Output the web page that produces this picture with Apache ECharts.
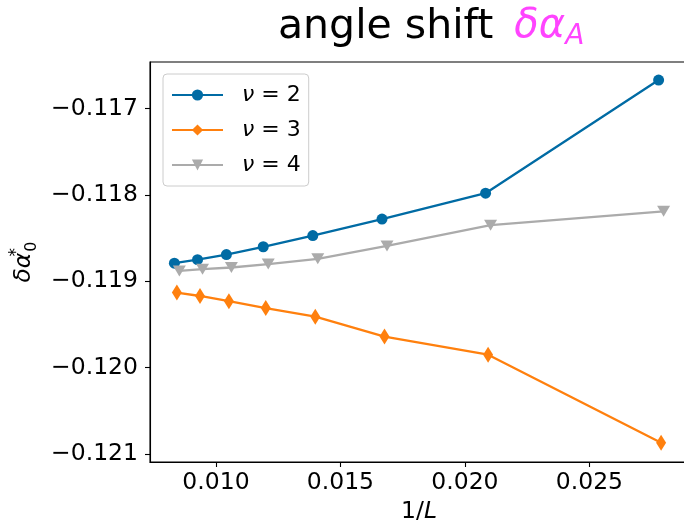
<!DOCTYPE html>
<html>
<head>
<meta charset="utf-8">
<script src="https://cdn.jsdelivr.net/npm/echarts@6/dist/echarts.min.js"></script>
<style>
  html, body { margin: 0; padding: 0; background: #fff; }
  #chart { width: 684px; height: 522px; }
</style>
</head>
<body>
<div id="chart"></div>
<script>
// 1/L positions for each series (small horizontal offsets keep markers apart)
const xNu2 = [0.00833, 0.00926, 0.01042, 0.01190, 0.01389, 0.01667, 0.02083, 0.02778];
const xNu3 = [0.00843, 0.00936, 0.01052, 0.01200, 0.01399, 0.01677, 0.02093, 0.02788];
const xNu4 = [0.00853, 0.00946, 0.01062, 0.01210, 0.01409, 0.01687, 0.02103, 0.02798];

// delta alpha_0^* values
const yNu2 = [-0.11879, -0.11875, -0.11869, -0.11860, -0.11847, -0.11828, -0.11798, -0.11667];
const yNu3 = [-0.11913, -0.11917, -0.11923, -0.11931, -0.11941, -0.11964, -0.11985, -0.12087];
const yNu4 = [-0.11888, -0.11886, -0.11884, -0.11880, -0.11874, -0.11859, -0.11835, -0.11819];

const seriesNames = ['ν = 2', 'ν = 3', 'ν = 4'];
const xTicks = [0.010, 0.015, 0.020, 0.025];
const yTicks = [-0.121, -0.120, -0.119, -0.118, -0.117];

const FONT = 'DejaVu Sans';
const TICK_FS = 23.5;
const pairs = (xs, ys) => xs.map((x, i) => [x, ys[i]]);

const chart = echarts.init(document.getElementById('chart'), null, { renderer: 'canvas' });

const axisCommon = {
  type: 'value',
  axisLine: { show: true, onZero: false, lineStyle: { color: '#000', width: 1.1 } },
  axisTick: { show: true, inside: false, length: 5, lineStyle: { color: '#000', width: 1.1 } },
  splitLine: { show: false },
  axisLabel: { color: '#000', fontFamily: FONT, fontSize: TICK_FS }
};

chart.setOption({
  animation: false,
  backgroundColor: '#fff',
  title: {
    text: '{n|angle shift }{m|δα}{s|A}',
    left: 278,
    top: 3,
    padding: 0,
    textStyle: {
      fontWeight: 'normal',
      rich: {
        n: { fontFamily: FONT, fontSize: 41, fontWeight: 'normal', color: '#000', lineHeight: 48 },
        m: { fontFamily: FONT, fontSize: 40, fontWeight: 'normal', fontStyle: 'italic', color: '#ff44ff', lineHeight: 48, padding: [0, 0, 0, 8] },
        s: { fontFamily: FONT, fontSize: 28, fontWeight: 'normal', fontStyle: 'italic', color: '#ff44ff', lineHeight: 16, verticalAlign: 'bottom' }
      }
    }
  },
  legend: {
    orient: 'vertical',
    left: 163,
    top: 74,
    padding: [10, 8, 10, 8],
    itemWidth: 51,
    itemHeight: 14,
    itemGap: 13,
    borderColor: '#cccccc',
    borderWidth: 1,
    borderRadius: 4,
    backgroundColor: 'rgba(255,255,255,0.8)',
    data: seriesNames,
    formatter: name => name.replace('ν', '{i|ν}'),
    textStyle: {
      fontFamily: FONT,
      fontSize: 22,
      color: '#000',
      padding: [0, 0, 0, 14],
      rich: {
        i: { fontFamily: FONT, fontSize: 22, fontStyle: 'italic', color: '#000' }
      }
    }
  },
  grid: {
    left: 150,
    top: 62,
    width: 538,
    height: 400,
    show: true,
    borderColor: '#000',
    borderWidth: 1.1,
    containLabel: false,
    outerBoundsMode: 'none'
  },
  xAxis: Object.assign({}, axisCommon, {
    min: 0.007351,
    max: 0.02896,
    axisTick: Object.assign({}, axisCommon.axisTick, { customValues: xTicks }),
    axisLabel: Object.assign({}, axisCommon.axisLabel, {
      customValues: xTicks,
      margin: 9,
      formatter: v => v.toFixed(3)
    }),
    name: '1/{i|L}',
    nameLocation: 'middle',
    nameGap: 36,
    nameTextStyle: {
      fontFamily: FONT, fontSize: TICK_FS, color: '#000',
      rich: { i: { fontFamily: FONT, fontSize: TICK_FS, fontStyle: 'italic', color: '#000' } }
    }
  }),
  yAxis: Object.assign({}, axisCommon, {
    min: -0.121092,
    max: -0.116461,
    axisTick: Object.assign({}, axisCommon.axisTick, { customValues: yTicks }),
    axisLabel: Object.assign({}, axisCommon.axisLabel, {
      customValues: yTicks,
      margin: 12,
      formatter: v => '\u2212' + Math.abs(v).toFixed(3)
    }),
    name: '{i|δα}{sup|*}{sub|0}',
    nameLocation: 'middle',
    nameRotate: 90,
    nameGap: 104,
    nameTextStyle: {
      fontFamily: FONT, fontSize: TICK_FS, color: '#000',
      rich: {
        i: { fontFamily: FONT, fontSize: TICK_FS, fontStyle: 'italic', color: '#000', lineHeight: 32 },
        sup: { fontFamily: FONT, fontSize: 17, color: '#000', lineHeight: 12, verticalAlign: 'top', width: 1 },
        sub: { fontFamily: FONT, fontSize: 16, color: '#000', lineHeight: 12, verticalAlign: 'bottom' }
      }
    }
  }),
  series: [
    {
      name: seriesNames[0], type: 'line', data: pairs(xNu2, yNu2),
      symbol: 'circle', symbolSize: 11,
      color: '#006BA4',
      lineStyle: { width: 2.3, color: '#006BA4' },
      itemStyle: { color: '#006BA4' },
      z: 3
    },
    {
      name: seriesNames[1], type: 'line', data: pairs(xNu3, yNu3),
      symbol: 'diamond', symbolSize: [10, 16],
      color: '#FF800E',
      lineStyle: { width: 2.3, color: '#FF800E' },
      itemStyle: { color: '#FF800E' },
      z: 3
    },
    {
      name: seriesNames[2], type: 'line', data: pairs(xNu4, yNu4),
      symbol: 'triangle', symbolRotate: 180, symbolSize: [13, 11],
      color: '#ABABAB',
      lineStyle: { width: 2.3, color: '#ABABAB' },
      itemStyle: { color: '#ABABAB' },
      z: 3
    }
  ]
});
</script>
</body>
</html>
